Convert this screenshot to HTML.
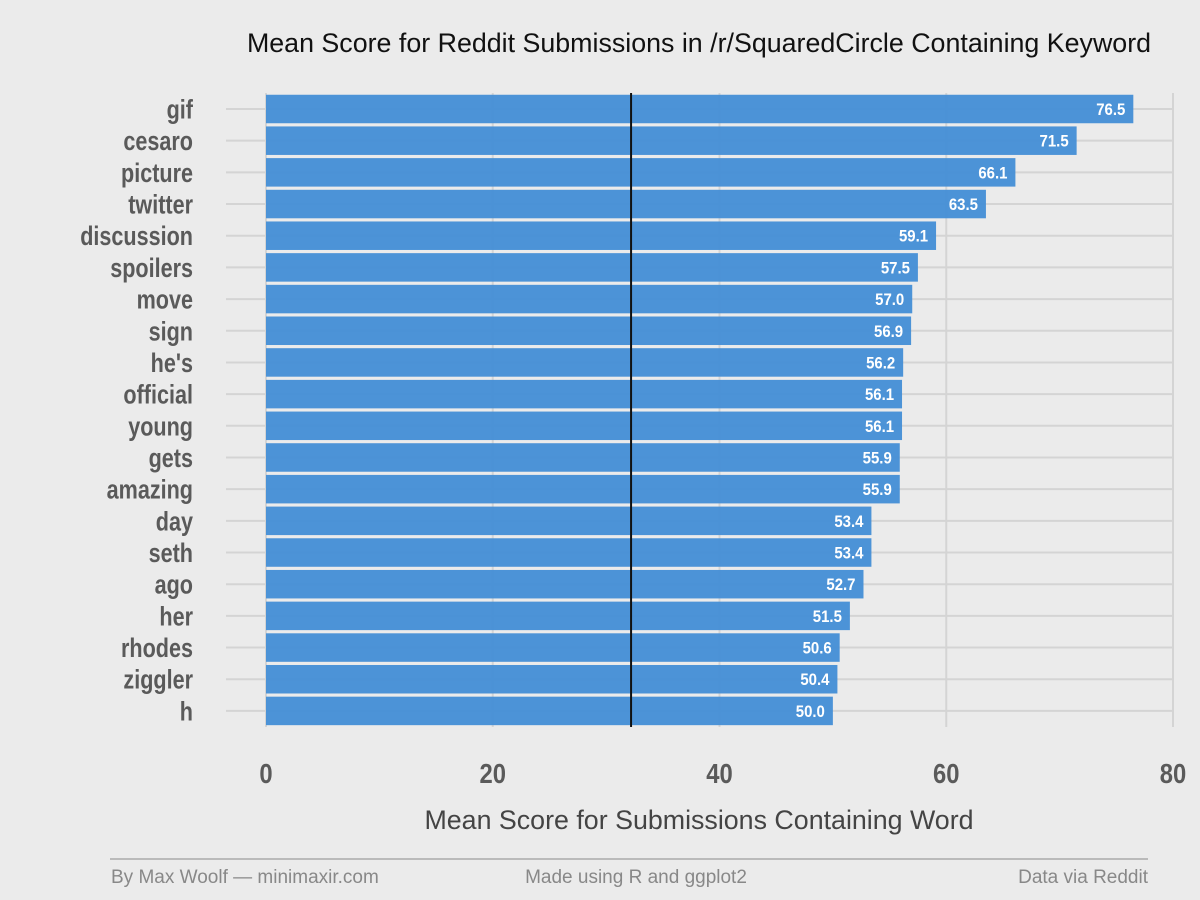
<!DOCTYPE html>
<html><head><meta charset="utf-8">
<style>
html,body{margin:0;padding:0;background:#ebebeb;}
svg{display:block;}
</style></head>
<body>
<svg id="chart" width="1200" height="900" xmlns="http://www.w3.org/2000/svg">
<rect x="0" y="0" width="1200" height="900" fill="#ebebeb"/>
<text x="699" y="52" text-anchor="middle" font-family="'Liberation Sans', sans-serif" font-size="26.8" fill="#111">Mean Score for Reddit Submissions in /r/SquaredCircle Containing Keyword</text>
<g id="grid"></g>
<g id="bars"></g>
<g id="ylabels"></g>
<g id="xlabels"></g>
<text x="699" y="829" text-anchor="middle" font-family="'Liberation Sans', sans-serif" font-size="26.8" fill="#444">Mean Score for Submissions Containing Word</text>
<line x1="110" y1="859" x2="1148" y2="859" stroke="#aaa" stroke-width="1.5"/>
<text x="111" y="883" font-family="'Liberation Sans', sans-serif" font-size="19" fill="#888">By Max Woolf — minimaxir.com</text>
<text x="636" y="883" text-anchor="middle" font-family="'Liberation Sans', sans-serif" font-size="19" fill="#888">Made using R and ggplot2</text>
<text x="1148" y="883" text-anchor="end" font-family="'Liberation Sans', sans-serif" font-size="19" fill="#888">Data via Reddit</text>
</svg>
<script>
const categories = ["gif","cesaro","picture","twitter","discussion","spoilers","move","sign","he's","official","young","gets","amazing","day","seth","ago","her","rhodes","ziggler","h"];
const values = [76.5,71.5,66.1,63.5,59.1,57.5,57.0,56.9,56.2,56.1,56.1,55.9,55.9,53.4,53.4,52.7,51.5,50.6,50.4,50.0];
const xTicks = [0,20,40,60,80];
const meanValue = 32.2;

const NS = "http://www.w3.org/2000/svg";
const x0 = 266, x1 = 1173, xMax = 80;
const xScale = v => x0 + (v / xMax) * (x1 - x0);
const yTop = 109, step = 31.68;
const yScale = i => yTop + i * step;
const barH = 28.5;
const FONT = "'Liberation Sans Narrow', 'Liberation Sans', sans-serif";

function mk(tag, attrs, parent) {
  const el = document.createElementNS(NS, tag);
  for (const k in attrs) el.setAttribute(k, attrs[k]);
  parent.appendChild(el);
  return el;
}
const grid = document.getElementById('grid');
const bars = document.getElementById('bars');
const ylab = document.getElementById('ylabels');
const xlab = document.getElementById('xlabels');

xTicks.forEach(t => {
  const l = mk('line', {x1: xScale(t), x2: xScale(t), y1: 93, y2: 727, stroke: '#d4d4d4', 'stroke-width': 2}, grid);
  
  
  const tx = mk('text', {transform: 'translate(' + xScale(t) + ',783) scale(0.85,1)', 'text-anchor': 'middle', 'font-family': FONT, 'font-weight': 'bold', 'font-size': 28, fill: '#5a5a5a'}, xlab);
  tx.textContent = t;
  
  
});

categories.forEach((c, i) => {
  const y = yScale(i);
  const g = mk('line', {x1: 226, x2: x1, y1: y, y2: y, stroke: '#d4d4d4', 'stroke-width': 2}, grid);
  
  
  const r = mk('rect', {x: x0, y: y - barH / 2, width: xScale(values[i]) - x0, height: barH, fill: '#4690d6', 'fill-opacity': 0.97}, bars);
  
  
  const v = mk('text', {transform: 'translate(' + (xScale(values[i]) - 8) + ',' + (y + 6) + ') scale(0.88,1)', 'text-anchor': 'end', 'font-family': FONT, 'font-weight': 'bold', 'font-size': 17, fill: '#fff'}, bars);
  v.textContent = values[i].toFixed(1);
  
  
  const t = mk('text', {transform: 'translate(193,' + (y + 9.5) + ') scale(0.8,1)', 'text-anchor': 'end', 'font-family': FONT, 'font-weight': 'bold', 'font-size': 27, fill: '#5a5a5a'}, ylab);
  t.textContent = c;
  
  
});

const m = mk('line', {x1: xScale(meanValue), x2: xScale(meanValue), y1: 93, y2: 727, stroke: '#111', 'stroke-width': 2}, bars);


</script>
</body></html>
